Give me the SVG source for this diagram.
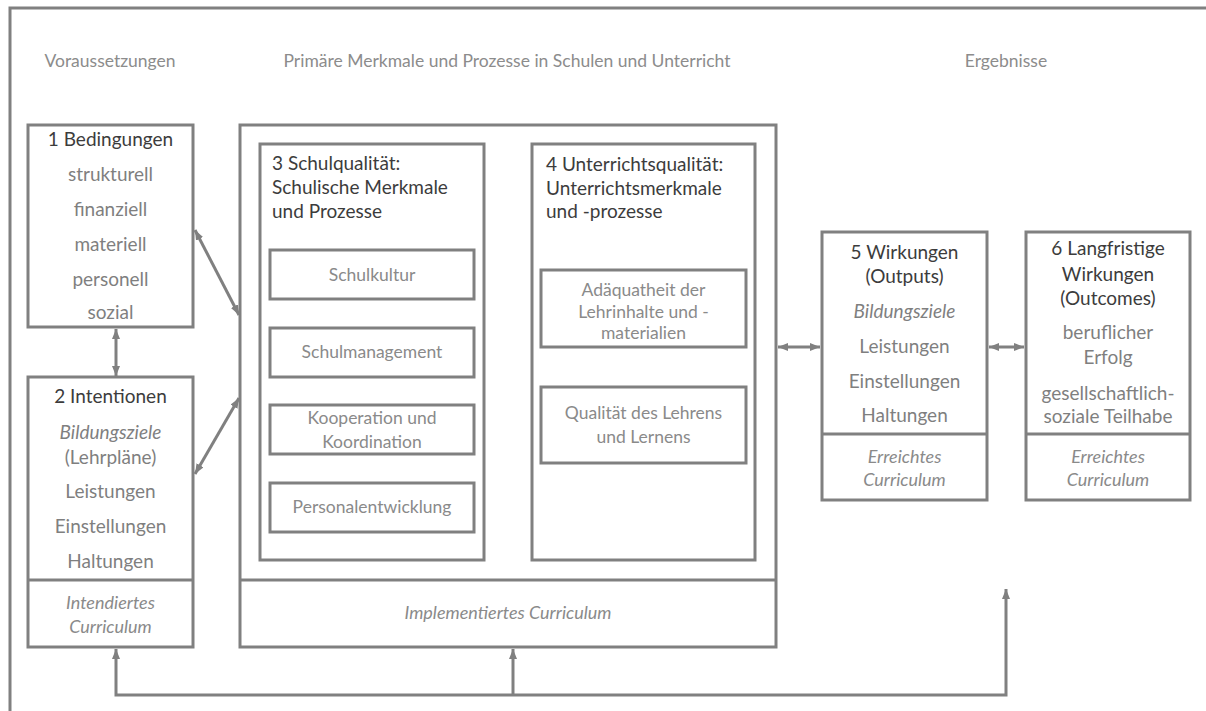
<svg xmlns="http://www.w3.org/2000/svg" width="1206" height="711" viewBox="0 0 1206 711">
<defs>
<style>
.box{fill:#fff;stroke:#808080;stroke-width:3}
.ln{fill:none;stroke:#808080;stroke-width:3}
.cn{fill:none;stroke:#808080;stroke-width:3}
text{font-family:Lato,"Open Sans","Liberation Sans",sans-serif}
.hd{font-size:17.5px;fill:#8c8c8c;text-anchor:middle}
.ti{font-size:19px;fill:#3c3c3c}
.tc{text-anchor:middle}
.it{font-size:19px;fill:#7f7f7f;text-anchor:middle}
.em{font-style:italic}
.in{font-size:17.5px;fill:#8a8a8a;text-anchor:middle}
.cu{font-size:18px;fill:#8a8a8a;text-anchor:middle;font-style:italic}
</style>
<marker id="ah" viewBox="0 0 10 8" refX="10" refY="4" markerWidth="10" markerHeight="8" markerUnits="userSpaceOnUse" orient="auto-start-reverse">
<path d="M0,0 L10,4 L0,8 Z" fill="#808080"/>
</marker>
</defs>
<rect width="1206" height="711" fill="#fff"/>
<path class="ln" d="M10,711 V8 H1206"/>
<g id="headers">
<text class="hd" x="110" y="67">Voraussetzungen</text>
<text class="hd" x="507" y="67">Primäre Merkmale und Prozesse in Schulen und Unterricht</text>
<text class="hd" x="1006" y="67">Ergebnisse</text>
</g>
<g id="connectors">
<line class="cn" x1="116" y1="329" x2="116" y2="376" marker-start="url(#ah)" marker-end="url(#ah)"/>
<line class="cn" x1="195" y1="230" x2="239" y2="315" marker-start="url(#ah)" marker-end="url(#ah)"/>
<line class="cn" x1="195" y1="474" x2="239" y2="398" marker-start="url(#ah)" marker-end="url(#ah)"/>
<line class="cn" x1="486" y1="352" x2="530" y2="352" marker-start="url(#ah)" marker-end="url(#ah)"/>
<line class="cn" x1="778" y1="347" x2="820" y2="347" marker-start="url(#ah)" marker-end="url(#ah)"/>
<line class="cn" x1="989" y1="347" x2="1024" y2="347" marker-start="url(#ah)" marker-end="url(#ah)"/>
<path class="cn" d="M116,649 V695 H1006 V589" marker-start="url(#ah)" marker-end="url(#ah)"/>
<line class="cn" x1="513" y1="695" x2="513" y2="649" marker-end="url(#ah)"/>
</g>
<g id="n1">
<rect class="box" x="28" y="125" width="165" height="202"/>
<text class="ti tc" x="110.5" y="146">1 Bedingungen</text>
<text class="it" x="110.5" y="181">strukturell</text>
<text class="it" x="110.5" y="216">finanziell</text>
<text class="it" x="110.5" y="251">materiell</text>
<text class="it" x="110.5" y="286">personell</text>
<text class="it" x="110.5" y="319">sozial</text>
</g>
<g id="n2">
<rect class="box" x="28" y="377" width="165" height="270"/>
<line class="ln" x1="28" y1="580" x2="193" y2="580"/>
<text class="ti tc" x="110.5" y="403">2 Intentionen</text>
<text class="it em" x="110.5" y="439">Bildungsziele</text>
<text class="it" x="110.5" y="464">(Lehrpläne)</text>
<text class="it" x="110.5" y="498">Leistungen</text>
<text class="it" x="110.5" y="533">Einstellungen</text>
<text class="it" x="110.5" y="568">Haltungen</text>
<text class="cu" x="110.5" y="609">Intendiertes</text>
<text class="cu" x="110.5" y="633">Curriculum</text>
</g>
<g id="container">
<rect class="box" x="240" y="125" width="536" height="522"/>
<line class="ln" x1="240" y1="580" x2="776" y2="580"/>
<text class="cu" x="508" y="619">Implementiertes Curriculum</text>
</g>
<g id="n3">
<rect class="box" x="260" y="144" width="224" height="416"/>
<text class="ti" x="272" y="170">3 Schulqualität:</text>
<text class="ti" x="272" y="194">Schulische Merkmale</text>
<text class="ti" x="272" y="218">und Prozesse</text>
</g>
<g id="n3a">
<rect class="box" x="270" y="250" width="204" height="49"/>
<text class="in" x="372" y="281">Schulkultur</text>
</g>
<g id="n3b">
<rect class="box" x="270" y="328" width="204" height="49"/>
<text class="in" x="372" y="358">Schulmanagement</text>
</g>
<g id="n3c">
<rect class="box" x="270" y="405" width="204" height="49"/>
<text class="in" x="372" y="424">Kooperation und</text>
<text class="in" x="372" y="448">Koordination</text>
</g>
<g id="n3d">
<rect class="box" x="270" y="483" width="204" height="49"/>
<text class="in" x="372" y="513">Personalentwicklung</text>
</g>
<g id="n4">
<rect class="box" x="532" y="144" width="223" height="416"/>
<text class="ti" x="546" y="171">4 Unterrichtsqualität:</text>
<text class="ti" x="546" y="195">Unterrichtsmerkmale</text>
<text class="ti" x="546" y="218">und -prozesse</text>
</g>
<g id="n4a">
<rect class="box" x="541" y="270" width="205" height="77"/>
<text class="in" x="643.5" y="296">Adäquatheit der</text>
<text class="in" x="643.5" y="318">Lehrinhalte und -</text>
<text class="in" x="643.5" y="339">materialien</text>
</g>
<g id="n4b">
<rect class="box" x="541" y="387" width="205" height="76"/>
<text class="in" x="643.5" y="419">Qualität des Lehrens</text>
<text class="in" x="643.5" y="443">und Lernens</text>
</g>
<g id="n5">
<rect class="box" x="822" y="232" width="165" height="268"/>
<line class="ln" x1="822" y1="434" x2="987" y2="434"/>
<text class="ti tc" x="904.5" y="259">5 Wirkungen</text>
<text class="ti tc" x="904.5" y="283">(Outputs)</text>
<text class="it em" x="904.5" y="318">Bildungsziele</text>
<text class="it" x="904.5" y="353">Leistungen</text>
<text class="it" x="904.5" y="388">Einstellungen</text>
<text class="it" x="904.5" y="422">Haltungen</text>
<text class="cu" x="904.5" y="463">Erreichtes</text>
<text class="cu" x="904.5" y="486">Curriculum</text>
</g>
<g id="n6">
<rect class="box" x="1026" y="232" width="164" height="268"/>
<line class="ln" x1="1026" y1="434" x2="1190" y2="434"/>
<text class="ti tc" x="1108" y="255">6 Langfristige</text>
<text class="ti tc" x="1108" y="281">Wirkungen</text>
<text class="ti tc" x="1108" y="305">(Outcomes)</text>
<text class="it" x="1108" y="339">beruflicher</text>
<text class="it" x="1108" y="364">Erfolg</text>
<text class="it" x="1108" y="400">gesellschaftlich-</text>
<text class="it" x="1108" y="423">soziale Teilhabe</text>
<text class="cu" x="1108" y="463">Erreichtes</text>
<text class="cu" x="1108" y="486">Curriculum</text>
</g>
</svg>
